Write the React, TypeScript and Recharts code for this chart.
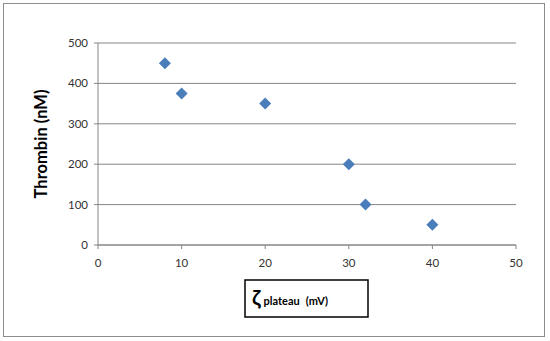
import { ScatterChart, Scatter, XAxis, YAxis, CartesianGrid } from 'recharts'

const zetaPlateau = [8, 10, 20, 30, 32, 40]
const thrombin = [450, 375, 350, 200, 100, 50]
const xTicks = [0, 10, 20, 30, 40, 50]
const yTicks = [0, 100, 200, 300, 400, 500]

const points = zetaPlateau.map((x, i) => ({ x, y: thrombin[i] }))

const FONT = 'Lato, "Open Sans", sans-serif'
const AXIS = '#868686'

// Excel style diamond: a square turned 45 degrees
const Diamond = (props: any) => {
  const { cx, cy } = props
  const r = 6
  return (
    <polygon
      points={`${cx},${cy - r} ${cx + r},${cy} ${cx},${cy + r} ${cx - r},${cy}`}
      fill="#4a7ebb"
    />
  )
}

const XLabel = (props: any) => {
  const { viewBox } = props
  const cx = viewBox.x + viewBox.width / 2
  const top = viewBox.y + 35
  return (
    <g>
      <rect x={cx - 62} y={top} width={123} height={37} fill="#fff" stroke="#000" strokeWidth={1.5} />
      <text x={cx - 55} y={top + 25} fontFamily={FONT} fontWeight="bold" fill="#000">
        <tspan fontSize={21}>ζ</tspan>
        <tspan fontSize={11} dx={3}>plateau</tspan>
        <tspan fontSize={11} dx={6}>(mV)</tspan>
      </text>
    </g>
  )
}

export default function App() {
  return (
    <div style={{ position: 'absolute', left: 0, top: 0, width: 550, height: 341, background: '#fff' }}>
      <div
        style={{
          position: 'absolute',
          left: 3,
          top: 3,
          width: 540,
          height: 332,
          border: '1px solid #8c8c8c',
        }}
      />
      <ScatterChart
        width={550}
        height={341}
        margin={{ top: 43, right: 34, bottom: 66, left: 0 }}
        style={{ position: 'absolute', left: 0, top: 0 }}
      >
        <CartesianGrid horizontal vertical={false} stroke={AXIS} strokeWidth={1} />
        <XAxis
          type="number"
          dataKey="x"
          domain={[0, 50]}
          ticks={xTicks}
          height={30}
          tickSize={4}
          tickMargin={10}
          stroke={AXIS}
          tick={{ fill: '#333', fontSize: 11.5, fontFamily: FONT }}
          label={<XLabel />}
        />
        <YAxis
          type="number"
          dataKey="y"
          domain={[0, 500]}
          ticks={yTicks}
          width={98}
          tickSize={4}
          tickMargin={6}
          stroke={AXIS}
          tick={{ fill: '#333', fontSize: 11.5, fontFamily: FONT }}
          label={{
            value: 'Thrombin (nM)',
            angle: -90,
            position: 'insideLeft',
            offset: 41,
            style: { textAnchor: 'middle', fontFamily: FONT, fontWeight: 'bold', fontSize: 16.5, fill: '#000' },
          }}
        />
        <Scatter data={points} shape={<Diamond />} isAnimationActive={false} />
      </ScatterChart>
    </div>
  )
}
